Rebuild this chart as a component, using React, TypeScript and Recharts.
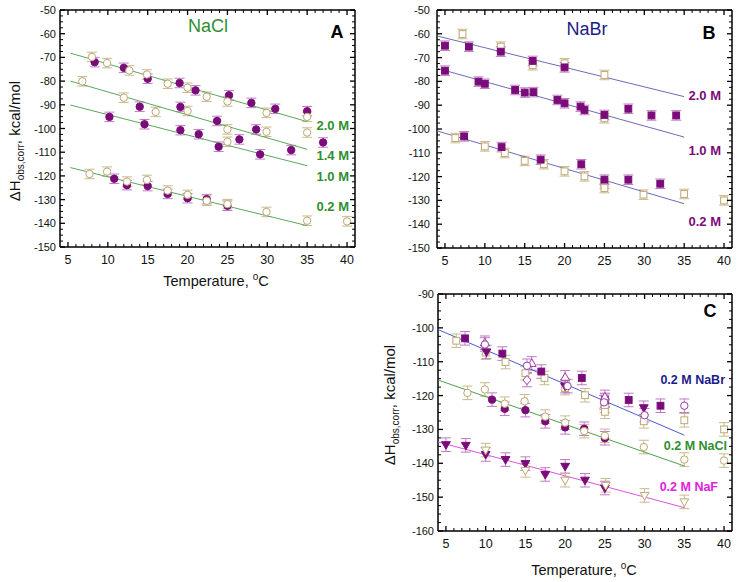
import React from 'react';
import { ScatterChart, Scatter, XAxis, YAxis, ErrorBar } from 'recharts';

type Pt = [number, number];

// ---- panel A, NaCl (temperature °C, ΔH kcal/mol) ----
const nacl20Filled: Pt[] = [[8.35, -72.0], [12.0, -74.4], [15.0, -79.0], [19.0, -80.8], [21.0, -83.9], [25.2, -86.0], [28.0, -89.2], [31.0, -91.7], [35.0, -92.7]];
const nacl20Open: Pt[] = [[8.0, -69.8], [9.9, -72.4], [12.7, -75.5], [14.9, -77.2], [17.5, -81.1], [20.0, -82.8], [22.4, -86.6], [25.0, -88.6], [29.9, -93.4], [35.0, -95.1]];
const nacl14Filled: Pt[] = [[14.0, -90.8], [19.1, -90.9], [23.7, -96.8], [26.5, -104.6], [28.6, -100.4], [33.0, -109.1], [37.0, -105.9]];
const nacl14Open: Pt[] = [[6.8, -80.1], [12.0, -87.0], [16.0, -93.0], [20.0, -92.6], [25.0, -100.4], [29.9, -101.4], [35.0, -101.7]];
const nacl10Filled: Pt[] = [[10.2, -95.1], [14.6, -98.2], [19.1, -100.7], [21.4, -102.4], [23.9, -107.7], [29.1, -110.9]];
const nacl10Open: Pt[] = [[25.0, -105.6]];
const nacl02Filled: Pt[] = [[10.8, -121.2], [12.4, -123.9], [15.0, -124.3], [17.5, -127.6], [20.0, -129.4], [22.4, -129.8], [25.0, -132.6]];
const nacl02Open: Pt[] = [[7.7, -119.2], [9.9, -118.2], [12.4, -122.4], [14.9, -121.7], [17.5, -126.2], [20.0, -128.0], [22.4, -130.5], [25.0, -131.9], [29.9, -135.2], [35.0, -138.9], [40.0, -139.2]];

const fitNacl20: Pt[] = [[5.3, -68.2], [35, -97.1]];
const fitNacl14: Pt[] = [[5.3, -80.0], [35, -108.8]];
const fitNacl10: Pt[] = [[5.3, -90.1], [35, -115.7]];
const fitNacl02: Pt[] = [[5.3, -116.5], [35, -141.0]];

// ---- panel B, NaBr ----
const nabr20Filled: Pt[] = [[5.0, -65.0], [8.0, -65.4], [12.0, -67.5], [16.0, -71.4], [20.0, -74.1]];
const nabr20Open: Pt[] = [[7.2, -60.1], [12.0, -65.4], [16.0, -73.2], [20.0, -72.4], [25.0, -77.3]];
const nabr10Filled: Pt[] = [[5.0, -75.5], [9.2, -80.1], [10.0, -81.0], [13.8, -83.6], [15.0, -84.7], [16.1, -84.5], [19.1, -87.8], [20.0, -89.2], [22.0, -90.6], [22.5, -92.0], [25.0, -94.1], [28.0, -91.5], [30.9, -94.3], [34.0, -94.3]];
const nabr10Open: Pt[] = [[25.0, -95.5]];
const nabr02Filled: Pt[] = [[7.4, -103.1], [12.1, -107.6], [17.0, -112.9], [22.1, -114.8], [25.0, -121.3], [28.0, -121.3], [32.0, -123.0]];
const nabr02Open: Pt[] = [[6.3, -103.8], [10.0, -107.3], [12.5, -110.1], [15.0, -113.4], [17.4, -114.8], [20.0, -117.8], [22.5, -119.9], [25.0, -123.0], [25.0, -124.8], [29.9, -127.6], [35.0, -127.3], [40.0, -130.0]];

const fitNabr20: Pt[] = [[4, -60.9], [35, -86.4]];
const fitNabr10: Pt[] = [[4, -74.5], [35, -103.4]];
const fitNabr02: Pt[] = [[4, -100.8], [35, -131.4]];

// ---- panel C, 0.2 M salts ----
const nabrTriDown: Pt[] = [[10.1, -107.1], [20.0, -117.2], [29.9, -123.6]];
const nabrCircleOpen: Pt[] = [[9.9, -104.9], [15.2, -111.2], [20.3, -117.2], [24.9, -122.0], [30.0, -125.8], [35.0, -123.0]];
const nabrDiamond: Pt[] = [[15.2, -115.4], [25.0, -121.5]];
const nabrTriUp: Pt[] = [[9.9, -104.4], [15.8, -110.5], [20.0, -114.6], [25.0, -120.4]];
const nafFilled: Pt[] = [[5.0, -134.5], [7.5, -134.7], [10.0, -137.4], [12.5, -138.9], [15.0, -140.1], [17.5, -143.3], [20.0, -140.9], [22.5, -145.0], [25.0, -147.3]];
const nafOpen: Pt[] = [[10.0, -136.1], [15.0, -142.1], [20.0, -145.0], [25.1, -146.5], [30.0, -149.5], [35.0, -151.4]];

const fitC_NaBr: Pt[] = [[4, -100.5], [35, -131.7]];
const fitC_NaCl: Pt[] = [[4, -115.4], [35, -140.8]];
const fitC_NaF: Pt[] = [[4, -133.7], [35, -153.1]];

const ERR = 2; // error bars are about ±2 kcal/mol everywhere

const xTicks = Array.from({ length: 36 }, (_, i) => 5 + i);
const minorY = (lo: number, hi: number) => Array.from({ length: (hi - lo) / 2.5 + 1 }, (_, i) => lo + i * 2.5);
const yTicksAB = minorY(-150, -50);
const yTicksC = minorY(-160, -90);

const FONT = '"Liberation Sans", Arial, Helvetica, sans-serif';
const PURPLE = '#7a0c7a';
const PURPLE_ERR = '#c07ac4';
const PURPLE_OPEN = '#9a3aa8';
const TAN = '#bba872';
const TAN_ERR = '#c9b98c';

const rows = (pts: Pt[]) => pts.map(([x, y]) => ({ x, y, e: ERR }));

type Kind = 'circle' | 'square' | 'triDown' | 'triUp' | 'diamond';

const marker = (kind: Kind, stroke: string, fill: string) => (p: any) => {
  const { cx, cy } = p;
  if (cx == null || cy == null) return <g />;
  const s = { stroke, fill, strokeWidth: 1 };
  if (kind === 'circle') return <circle cx={cx} cy={cy} r={3.7} {...s} />;
  if (kind === 'square') return <rect x={cx - 3.4} y={cy - 3.4} width={6.8} height={6.8} {...s} />;
  if (kind === 'triDown') return <polygon points={`${cx - 4.4},${cy - 3} ${cx + 4.4},${cy - 3} ${cx},${cy + 4.6}`} {...s} />;
  if (kind === 'triUp') return <polygon points={`${cx - 4.4},${cy + 3} ${cx + 4.4},${cy + 3} ${cx},${cy - 4.6}`} {...s} />;
  return <polygon points={`${cx},${cy - 4.6} ${cx + 4},${cy} ${cx},${cy + 4.6} ${cx - 4},${cy}`} {...s} />;
};

const dots = (key: string, pts: Pt[], kind: Kind, filled: boolean, color = filled ? PURPLE : TAN) => (
  <Scatter key={key} data={rows(pts)} dataKey="y" isAnimationActive={false}
    shape={marker(kind, color, filled ? color : '#fff')}>
    <ErrorBar dataKey="e" direction="y" width={5} strokeWidth={1}
      stroke={color === TAN ? TAN_ERR : PURPLE_ERR} />
  </Scatter>
);

// the fit lines sit on the top/right frame axes (same domains) so those axes get drawn
const fit = (key: string, pts: Pt[], color: string) => (
  <Scatter key={key} xAxisId="top" yAxisId="right" data={pts.map(([x, y]) => ({ x, y }))} dataKey="y"
    isAnimationActive={false} line={{ stroke: color, strokeWidth: 1 }} shape={() => <g />} />
);

// ticks point inward on all four sides, labels only on majors
const tickLine = (x1: number, y1: number, x2: number, y2: number, major: boolean) => (
  <line x1={x1} y1={y1} x2={x2} y2={y2} stroke="#000" strokeWidth={major ? 1.3 : 1} />
);
const bottomTick = (p: any) => {
  const v = p.payload.value;
  const major = v % 5 === 0;
  return (
    <g>
      {tickLine(p.x, p.y, p.x, p.y - (major ? 5 : 3), major)}
      {major && <text x={p.x} y={p.y + 17} textAnchor="middle" fontSize={12.5} fontFamily={FONT} fill="#111">{v}</text>}
    </g>
  );
};
const topTick = (p: any) => {
  const major = p.payload.value % 5 === 0;
  return tickLine(p.x, p.y, p.x, p.y + (major ? 5 : 3), major);
};
const leftTick = (gap: number) => (p: any) => {
  const v = p.payload.value;
  const major = v % 10 === 0;
  return (
    <g>
      {tickLine(p.x, p.y, p.x + (major ? 5 : 3), p.y, major)}
      {major && <text x={p.x - gap} y={p.y + 4} textAnchor="end" fontSize={11} fontFamily={FONT} fill="#111">{v}</text>}
    </g>
  );
};
const rightTick = (p: any) => {
  const major = p.payload.value % 10 === 0;
  return tickLine(p.x, p.y, p.x - (major ? 5 : 3), p.y, major);
};

const AXIS = { stroke: '#000', strokeWidth: 1.5 };

const frame = (yDomain: [number, number], yTicks: number[], yWidth: number, xHeight: number, gap: number) => [
  <XAxis key="xb" type="number" dataKey="x" domain={[4, 41]} allowDataOverflow ticks={xTicks} interval={0}
    height={xHeight} tickSize={0} tickMargin={0} tickLine={false} axisLine={AXIS} tick={bottomTick} />,
  <XAxis key="xt" xAxisId="top" orientation="top" type="number" dataKey="x" domain={[4, 41]} allowDataOverflow
    ticks={xTicks} interval={0} height={1} tickSize={0} tickMargin={0} tickLine={false} axisLine={AXIS} tick={topTick} />,
  <YAxis key="yl" type="number" dataKey="y" domain={yDomain} allowDataOverflow ticks={yTicks} interval={0}
    width={yWidth} tickSize={0} tickMargin={0} tickLine={false} axisLine={AXIS} tick={leftTick(gap)} />,
  <YAxis key="yr" yAxisId="right" orientation="right" type="number" dataKey="y" domain={yDomain} allowDataOverflow
    ticks={yTicks} interval={0} width={1} tickSize={0} tickMargin={0} tickLine={false} axisLine={AXIS} tick={rightTick} />,
];

const abs = (left: number, top: number): React.CSSProperties => ({ position: 'absolute', left, top });

const YTitle = ({ x, y }: { x: number; y: number }) => (
  <text x={x} y={y} transform={`rotate(-90 ${x} ${y})`} textAnchor="middle" fontSize={15} fontFamily={FONT} fill="#111">
    ΔH<tspan fontSize={10} dy={4}>obs,corr</tspan><tspan dy={-4}>, kcal/mol</tspan>
  </text>
);
const XTitle = ({ x, y }: { x: number; y: number }) => (
  <text x={x} y={y} textAnchor="middle" fontSize={14.5} fontFamily={FONT} fill="#111">
    Temperature, <tspan fontSize={10} dy={-6}>o</tspan><tspan dy={6}>C</tspan>
  </text>
);

const tag = { fontFamily: FONT, fontWeight: 700, fontSize: 13, textAnchor: 'end' as const };

export default function App() {
  return (
    <div style={{ position: 'absolute', left: 0, top: 0, width: 742, height: 582, background: '#fff' }}>
      <div style={abs(0, 0)}>
        <ScatterChart width={370} height={292} margin={{ top: 9, right: 14, bottom: 0, left: 0 }}>
          {frame([-150, -50], yTicksAB, 60, 45, 4)}
          {fit('f20', fitNacl20, '#5ea65e')}
          {fit('f14', fitNacl14, '#5ea65e')}
          {fit('f10', fitNacl10, '#5ea65e')}
          {fit('f02', fitNacl02, '#5ea65e')}
          {dots('a20f', nacl20Filled, 'circle', true)}
          {dots('a14f', nacl14Filled, 'circle', true)}
          {dots('a10f', nacl10Filled, 'circle', true)}
          {dots('a02f', nacl02Filled, 'circle', true)}
          {dots('a20o', nacl20Open, 'circle', false)}
          {dots('a14o', nacl14Open, 'circle', false)}
          {dots('a10o', nacl10Open, 'circle', false)}
          {dots('a02o', nacl02Open, 'circle', false)}
        </ScatterChart>
      </div>

      <div style={abs(370, 0)}>
        <ScatterChart width={372} height={278} margin={{ top: 9, right: 9, bottom: 0, left: 0 }}>
          {frame([-150, -50], yTicksAB, 67, 30, 7)}
          {fit('f20', fitNabr20, '#6c6cb6')}
          {fit('f10', fitNabr10, '#6c6cb6')}
          {fit('f02', fitNabr02, '#6c6cb6')}
          {dots('b20o', nabr20Open, 'square', false)}
          {dots('b10o', nabr10Open, 'square', false)}
          {dots('b02o', nabr02Open, 'square', false)}
          {dots('b20f', nabr20Filled, 'square', true)}
          {dots('b10f', nabr10Filled, 'square', true)}
          {dots('b02f', nabr02Filled, 'square', true)}
        </ScatterChart>
      </div>

      <div style={abs(370, 284)}>
        <ScatterChart width={372} height={298} margin={{ top: 9, right: 9, bottom: 0, left: 0 }}>
          {frame([-160, -90], yTicksC, 68, 51, 4)}
          {fit('fbr', fitC_NaBr, '#4b5ad6')}
          {fit('fcl', fitC_NaCl, '#4e9e4e')}
          {fit('ff', fitC_NaF, '#e052e0')}
          {dots('cbo', nabr02Open, 'square', false)}
          {dots('cbf', nabr02Filled, 'square', true)}
          {dots('cbt', nabrTriDown, 'triDown', true)}
          {dots('cbd', nabrDiamond, 'diamond', false, PURPLE_OPEN)}
          {dots('cbu', nabrTriUp, 'triUp', false, PURPLE_OPEN)}
          {dots('cbc', nabrCircleOpen, 'circle', false, PURPLE_OPEN)}
          {dots('ccf', nacl02Filled, 'circle', true)}
          {dots('cco', nacl02Open, 'circle', false)}
          {dots('cff', nafFilled, 'triDown', true)}
          {dots('cfo', nafOpen, 'triDown', false)}
        </ScatterChart>
      </div>

      <svg width={742} height={582} style={{ position: 'absolute', left: 0, top: 0, pointerEvents: 'none' }}>
        <YTitle x={20} y={141} />
        <XTitle x={216} y={286} />
        <YTitle x={395} y={405} />
        <XTitle x={584} y={575} />

        <text x={208} y={32} textAnchor="middle" fontSize={18} fontFamily={FONT} fill="#2f8f2f">NaCl</text>
        <text x={337} y={38} textAnchor="middle" fontSize={18} fontWeight={700} fontFamily={FONT}>A</text>
        <text x={349} y={130} {...tag} fill="#2f8f2f">2.0 M</text>
        <text x={349} y={160} {...tag} fill="#2f8f2f">1.4 M</text>
        <text x={349} y={181} {...tag} fill="#2f8f2f">1.0 M</text>
        <text x={349} y={211} {...tag} fill="#2f8f2f">0.2 M</text>

        <text x={587} y={35} textAnchor="middle" fontSize={18} fontFamily={FONT} fill="#1c1c84">NaBr</text>
        <text x={709} y={39} textAnchor="middle" fontSize={18} fontWeight={700} fontFamily={FONT}>B</text>
        <text x={721} y={100} {...tag} fill={PURPLE}>2.0 M</text>
        <text x={721} y={155} {...tag} fill={PURPLE}>1.0 M</text>
        <text x={721} y={226} {...tag} fill={PURPLE}>0.2 M</text>

        <text x={710} y={317} textAnchor="middle" fontSize={18} fontWeight={700} fontFamily={FONT}>C</text>
        <text x={725} y={384} {...tag} fontSize={12.5} fill="#1c1c8c">0.2 M NaBr</text>
        <text x={727} y={450} {...tag} fontSize={12.5} fill="#2f8f2f">0.2 M NaCl</text>
        <text x={718} y={491} {...tag} fontSize={12.5} fill="#e020e0">0.2 M NaF</text>
      </svg>
    </div>
  );
}
